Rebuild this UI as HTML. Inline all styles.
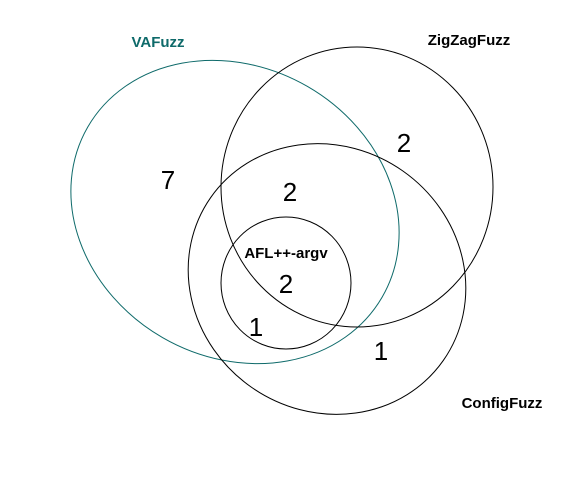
<!DOCTYPE html>
<html><head><style>body{margin:0;background:#fff}</style></head><body>
<svg width="562" height="472" xmlns="http://www.w3.org/2000/svg" font-family="Liberation Sans, Arial, sans-serif">
<rect width="562" height="472" fill="#fff"/>
<ellipse cx="235" cy="212" rx="170" ry="145" transform="rotate(30 235 212)" fill="none" stroke="#0e6a6a" stroke-width="1"/>
<ellipse cx="357" cy="187" rx="136" ry="140" fill="none" stroke="#000" stroke-width="1"/>
<ellipse cx="327" cy="279" rx="142" ry="132" transform="rotate(35 327 279)" fill="none" stroke="#000" stroke-width="1"/>
<ellipse cx="286" cy="283" rx="65" ry="66" fill="none" stroke="#000" stroke-width="1"/>
<g font-weight="bold" font-size="15" text-anchor="middle">
<text x="158" y="47" fill="#0e6a6a">VAFuzz</text>
<text x="469" y="45">ZigZagFuzz</text>
<text x="502" y="408">ConfigFuzz</text>
<text x="286" y="258" font-size="15">AFL++-argv</text>
</g>
<g font-size="26" text-anchor="middle">
<text x="168" y="189">7</text>
<text x="404" y="152">2</text>
<text x="290" y="201">2</text>
<text x="286" y="293">2</text>
<text x="256" y="336">1</text>
<text x="381" y="360">1</text>
</g>
</svg>
</body></html>
